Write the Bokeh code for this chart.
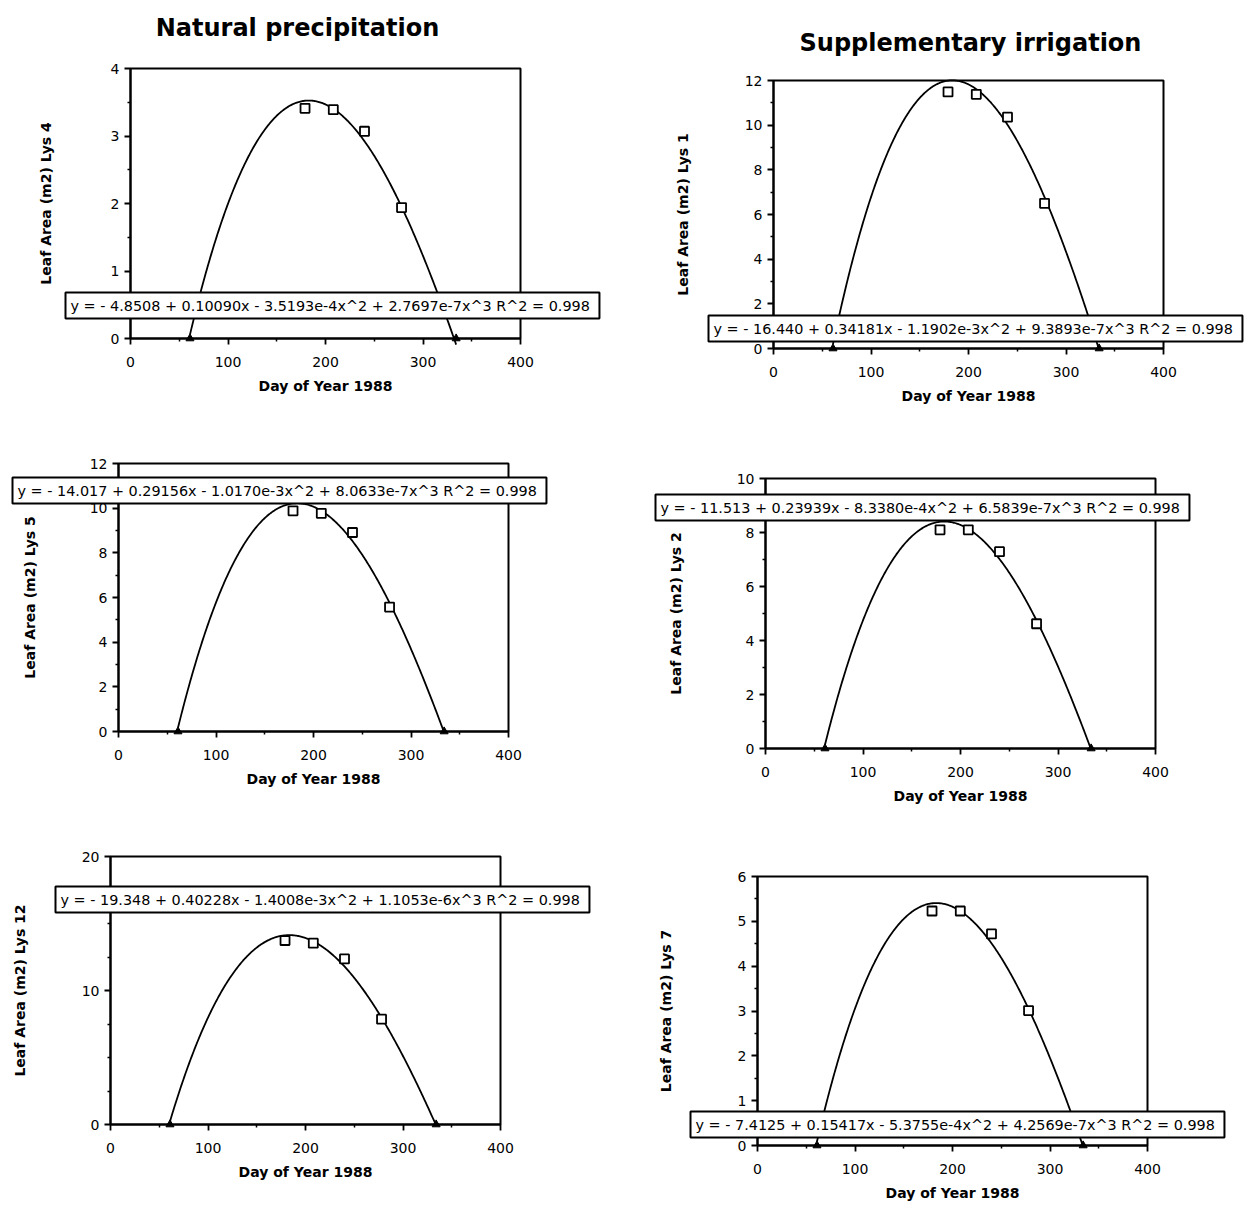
import numpy as np
from bokeh.plotting import figure
from bokeh.models import Range1d, FixedTicker, Label, LinearAxis, BoxAnnotation
from bokeh.layouts import row, column
from bokeh.embed import file_html
from bokeh.resources import INLINE

# ---------------- data ----------------
column_titles = ["Natural precipitation", "Supplementary irrigation"]
x_title = "Day of Year 1988"
lys_labels = ["Leaf Area (m2) Lys 4", "Leaf Area (m2) Lys 1",
              "Leaf Area (m2) Lys 5", "Leaf Area (m2) Lys 2",
              "Leaf Area (m2) Lys 12", "Leaf Area (m2) Lys 7"]

sample_days = [179, 208, 240, 278]        # open squares
zero_days = [61, 334]                     # filled triangles (no leaves)
zero_area = [0, 0]

lys4_area = [3.41, 3.39, 3.07, 1.94]
lys1_area = [11.49, 11.38, 10.36, 6.50]
lys5_area = [9.88, 9.77, 8.91, 5.57]
lys2_area = [8.10, 8.10, 7.29, 4.62]
lys12_area = [13.73, 13.53, 12.36, 7.86]
lys7_area = [5.23, 5.23, 4.72, 3.01]

# cubic fits printed on each panel: c0, c1, c2, c3
lys4_fit = [-4.8508, 0.10090, -3.5193e-4, 2.7697e-7]
lys1_fit = [-16.440, 0.34181, -1.1902e-3, 9.3893e-7]
lys5_fit = [-14.017, 0.29156, -1.0170e-3, 8.0633e-7]
lys2_fit = [-11.513, 0.23939, -8.3380e-4, 6.5839e-7]
lys12_fit = [-19.348, 0.40228, -1.4008e-3, 1.1053e-6]
lys7_fit = [-7.4125, 0.15417, -5.3755e-4, 4.2569e-7]

eq_texts = [
    "y = - 4.8508 + 0.10090x - 3.5193e-4x^2 + 2.7697e-7x^3  R^2 = 0.998",
    "y = - 16.440 + 0.34181x - 1.1902e-3x^2 + 9.3893e-7x^3  R^2 = 0.998",
    "y = - 14.017 + 0.29156x - 1.0170e-3x^2 + 8.0633e-7x^3  R^2 = 0.998",
    "y = - 11.513 + 0.23939x - 8.3380e-4x^2 + 6.5839e-7x^3  R^2 = 0.998",
    "y = - 19.348 + 0.40228x - 1.4008e-3x^2 + 1.1053e-6x^3  R^2 = 0.998",
    "y = - 7.4125 + 0.15417x - 5.3755e-4x^2 + 4.2569e-7x^3  R^2 = 0.998",
]

x_ticks = [0, 100, 200, 300, 400]
x_minor = [50, 150, 250, 350]
y_ticks_lys4 = [0, 1, 2, 3, 4]
y_minor_lys4 = [0.5, 1.5, 2.5, 3.5]
y_ticks_lys1 = [0, 2, 4, 6, 8, 10, 12]
y_minor_lys1 = [1, 3, 5, 7, 9, 11]
y_ticks_lys5 = [0, 2, 4, 6, 8, 10, 12]
y_minor_lys5 = [1, 3, 5, 7, 9, 11]
y_ticks_lys2 = [0, 2, 4, 6, 8, 10]
y_minor_lys2 = [1, 3, 5, 7, 9]
y_ticks_lys12 = [0, 10, 20]
y_minor_lys12 = [2.5, 5, 7.5, 12.5, 15, 17.5]
y_ticks_lys7 = [0, 1, 2, 3, 4, 5, 6]
y_minor_lys7 = [0.5, 1.5, 2.5, 3.5, 4.5, 5.5]

FONT = "DejaVu Sans"
BOX_W = 390  # pixel width of the 0..400 day axis


def make_panel(area, fit, eq, ylabel, yticks, yminor,
               cell_w, cell_h, left, top, box_h, eq_x, eq_y, ystand,
               title=None, title_x=0, title_y=0):
    xmax = x_ticks[-1]
    ymax = yticks[-1]
    sx = BOX_W / xmax
    sy = box_h / ymax
    right = cell_w - left - BOX_W
    bottom = cell_h - top - box_h
    p = figure(frame_width=cell_w, frame_height=cell_h,
               min_border=0,
               x_range=Range1d(-left / sx, xmax + right / sx),
               y_range=Range1d(-bottom / sy, ymax + top / sy),
               x_axis_location=None, y_axis_location=None,
               toolbar_location=None, output_backend="svg",
               background_fill_color="white", border_fill_color="white")
    p.outline_line_color = None
    p.grid.visible = False

    xa = LinearAxis(fixed_location=0, bounds=(0, xmax),
                    ticker=FixedTicker(ticks=x_ticks, minor_ticks=x_minor),
                    axis_label=x_title)
    ya = LinearAxis(fixed_location=0, bounds=(0, ymax),
                    ticker=FixedTicker(ticks=yticks, minor_ticks=yminor),
                    axis_label=ylabel)
    p.add_layout(xa, "below")
    p.add_layout(ya, "left")
    for ax in (xa, ya):
        ax.axis_line_color = "black"
        ax.axis_line_width = 2
        ax.major_tick_line_width = 1.8
        ax.minor_tick_line_width = 1.5
        ax.major_tick_out = 6
        ax.major_tick_in = 0
        ax.minor_tick_out = 3
        ax.minor_tick_in = 0
        ax.major_label_text_font = FONT
        ax.major_label_text_font_size = "14px"
        ax.major_label_text_color = "black"
        ax.axis_label_text_font = FONT
        ax.axis_label_text_font_size = "14px"
        ax.axis_label_text_font_style = "bold"
        ax.axis_label_text_color = "black"
    xa.major_label_standoff = 12
    ya.major_label_standoff = 5
    xa.axis_label_standoff = 8
    ya.axis_label_standoff = ystand

    p.add_layout(BoxAnnotation(left=0, right=xmax, bottom=0, top=ymax,
                               fill_alpha=0, line_color="black",
                               line_alpha=1.0, line_width=2,
                               level="underlay"))

    days = np.linspace(zero_days[0], zero_days[-1], 300)
    curve = fit[0] + fit[1] * days + fit[2] * days ** 2 + fit[3] * days ** 3
    p.line(days, curve, line_color="black", line_width=1.8)
    p.scatter(sample_days, area, marker="square", size=9,
              fill_color="white", line_color="black", line_width=1.8)
    p.scatter(zero_days, zero_area, marker="triangle", size=8,
              fill_color="black", line_color="black")

    p.add_layout(Label(x=eq_x, y=eq_y, x_units="screen", y_units="screen",
                       text=eq, text_font=FONT, text_font_size="14.4px",
                       text_color="black", text_align="left",
                       text_baseline="bottom", padding=5,
                       background_fill_color="white",
                       border_line_color="black", border_line_width=2))
    if title:
        p.add_layout(Label(x=title_x, y=title_y, x_units="screen",
                           y_units="screen", text=title,
                           text_font=FONT, text_font_size="24px",
                           text_font_style="bold",
                           text_color="black", text_align="center",
                           text_baseline="middle"))
    return p


tl = make_panel(lys4_area, lys4_fit, eq_texts[0], lys_labels[0],
                y_ticks_lys4, y_minor_lys4, 630, 410, 130, 68, 270,
                65, 92, 54, column_titles[0], 297, 383)
tr = make_panel(lys1_area, lys1_fit, eq_texts[1], lys_labels[1],
                y_ticks_lys1, y_minor_lys1, 628, 410, 143, 80, 268,
                78, 69, 51, column_titles[1], 340, 368)
ml = make_panel(lys5_area, lys5_fit, eq_texts[2], lys_labels[2],
                y_ticks_lys5, y_minor_lys5, 630, 395, 118, 53, 268,
                12, 302, 49)
mr = make_panel(lys2_area, lys2_fit, eq_texts[3], lys_labels[3],
                y_ticks_lys2, y_minor_lys2, 628, 395, 135, 68, 270,
                25, 285, 50)
bl = make_panel(lys12_area, lys12_fit, eq_texts[4], lys_labels[4],
                y_ticks_lys12, y_minor_lys12, 630, 400, 110, 51, 268,
                55, 293, 51)
br = make_panel(lys7_area, lys7_fit, eq_texts[5], lys_labels[5],
                y_ticks_lys7, y_minor_lys7, 628, 400, 127, 71, 269,
                60, 68, 61)

layout = column(row(tl, tr, spacing=0), row(ml, mr, spacing=0),
                row(bl, br, spacing=0), spacing=0)

open("out.html", "w").write(file_html(layout, INLINE, "Leaf area"))
